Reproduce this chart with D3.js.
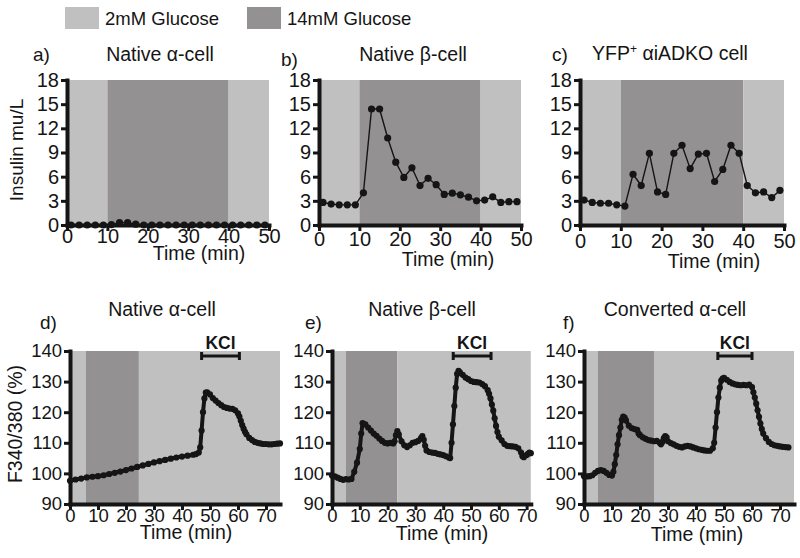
<!DOCTYPE html>
<html><head><meta charset="utf-8">
<script src="https://cdn.jsdelivr.net/npm/d3@7"></script>
<style>body{margin:0;background:#fff}</style>
</head><body><script>
// ---------- data ----------
const legendLabels = ["2mM Glucose", "14mM Glucose"];
const panelTitles = ["Native α-cell", "Native β-cell", "YFP", "Native α-cell", "Native β-cell", "Converted α-cell"];
const panelLetters = ["a)", "b)", "c)", "d)", "e)", "f)"];

const xTicksTop = [0, 10, 20, 30, 40, 50];
const yTicksTop = [0, 3, 6, 9, 12, 15, 18];
const xTicksBottom = [0, 10, 20, 30, 40, 50, 60, 70];
const yTicksBottom = [90, 100, 110, 120, 130, 140];

// top row: insulin secretion, sampled every 2 min
const timeTop = [1, 3, 5, 7, 9, 11, 13, 15, 17, 19, 21, 23, 25, 27, 29, 31, 33, 35, 37, 39, 41, 43, 45, 47, 49];
const insulinAlpha = [0, 0, 0, 0, 0, 0.05, 0.3, 0.3, 0.1, 0, 0, 0, 0, 0, 0, 0, 0, 0, 0, 0, 0, 0, 0, 0, 0];
const insulinBeta = [2.8, 2.6, 2.5, 2.5, 2.5, 4.0, 14.4, 14.4, 10.8, 7.8, 5.9, 7.1, 4.9, 5.8, 5.0, 3.8, 3.95, 3.75, 3.45, 3.0, 3.1, 3.5, 2.8, 2.9, 2.9];
const insulinYfp = [3.1, 2.8, 2.7, 2.7, 2.5, 2.35, 6.3, 4.9, 8.9, 4.1, 3.8, 8.9, 9.9, 7.0, 8.8, 8.9, 5.4, 6.9, 9.9, 8.9, 4.9, 4.0, 4.1, 3.4, 4.3];

// glucose bands [start, end, level]  level 0 = 2mM, 1 = 14mM
const bandsTop = [[0, 10, 0], [10, 40, 1], [40, 50, 0]];
const bandsD = [[0, 5.6, 0], [5.6, 24.6, 1], [24.6, 75, 0]];
const bandsE = [[0, 5, 0], [5, 23.5, 1], [23.5, 71.5, 0]];
const bandsF = [[0, 5, 0], [5, 25, 1], [25, 75, 0]];

const kclD = [47, 60.5];
const kclE = [43.6, 57.2];
const kclF = [47.8, 60];

// bottom row: calcium traces F340/380 (%)
const timeD = [0,2,4,6,8,10,12,14,16,18,20,22,24,26,28,30,32,34,36,38,40,42,44,45,46,46.5,47,47.5,48,48.5,49,50,51,52,53,54,55,56,57,58,59,60,60.5,61,61.5,62,62.5,63,64,65,66,67,68,69,70,71,72,73,74,75];
const calciumD = [97.6,98.0,98.3,98.7,98.9,99.1,99.4,99.8,100.2,100.6,101.1,101.6,102.1,102.6,103.1,103.6,104.0,104.4,104.8,105.2,105.5,105.8,106.1,106.3,106.8,108.5,114,120,124.5,126.4,126.5,125.8,124.6,123.8,123.0,122.3,121.7,121.4,121.2,121.1,120.6,119.6,118.6,117.2,115.8,114.6,113.6,112.8,111.6,110.9,110.3,110.0,109.8,109.6,109.6,109.5,109.5,109.6,109.7,109.8];

const timeE = [0,1,2,3,4,5,6,7,8,9,10,10.5,11,12,13,14,15,16,17,18,19,20,21,22,22.5,23,23.5,24,25,26,27,28,29,30,31,32,32.5,33,33.5,34,35,36,37,38,39,40,41,42,42.5,43,43.5,44,44.5,45,45.5,46,47,48,49,50,51,52,53,54,55,56,56.5,57,57.5,58,58.5,59,59.5,60,61,62,63,64,65,66,67,68,68.5,69,70,70.5,71,71.5];
const calciumE = [99.3,99.0,98.6,98.2,97.9,98.1,98.0,98.2,100.5,103.5,108,113,116.4,116.0,115.0,114.0,113.0,112.3,111.4,110.6,110.0,109.8,110.0,109.8,110.5,112.5,113.8,112.8,110.5,109.2,108.6,109.2,110.0,110.2,110.6,111.5,112.2,111.0,109.0,107.5,107.0,106.8,106.7,106.4,106.2,106.0,105.6,105.2,105.0,110,116,122,128,132.5,133.5,133.0,132.2,131.3,130.8,130.2,129.9,129.8,129.7,129.2,128.5,127.2,126.0,124.5,122.5,120.5,118.0,115.5,113.5,112.0,110.8,109.6,109.0,108.9,108.8,108.7,108.2,106.8,105.6,105.3,106.0,106.4,106.8,106.6];

const timeF = [0,1,2,3,4,5,6,7,8,9,10,10.5,11,11.5,12,12.5,13,13.5,14,14.5,15,16,17,18,19,19.5,20,21,22,23,24,25,26,27,27.5,28,28.5,29,29.5,30,31,32,33,34,35,36,37,38,39,40,41,42,43,44,45,46,46.5,47,47.5,48,48.5,49,49.5,50,51,52,53,54,55,56,57,58,59,60,60.5,61,61.5,62,62.5,63,63.5,64,65,66,67,68,69,70,71,72,73];
const calciumF = [99.1,99.0,99.1,99.4,100.2,100.8,101.1,100.8,100.2,99.5,99.3,100.5,103.0,106.0,109.5,112.5,115.0,117.5,118.6,118.2,117.3,115.6,114.8,114.5,114.2,113.0,112.5,111.8,111.3,110.9,110.7,110.5,110.6,110.0,109.5,110.3,111.5,112.2,111.8,110.5,109.9,109.5,109.0,108.7,108.5,108.8,109.0,108.8,108.5,108.2,107.9,107.7,107.5,107.4,107.4,108.2,110,115,120,124.8,128,130.3,131.0,131.2,130.6,129.9,129.4,129.1,128.9,128.8,128.9,128.8,129.0,128.2,126.5,124.8,122.8,120.6,118.5,116.3,114.5,113.0,111.5,110.3,109.6,109.2,109.0,108.8,108.7,108.6,108.5];

// ---------- drawing ----------
const FONT = '"Liberation Sans", Arial, Helvetica, sans-serif';
const INK = "#151515";
const BAND_COLORS = ["#c0c0c0", "#939191"];

const svg = d3.select("body").append("svg").attr("width", 800).attr("height", 558)
  .attr("font-family", FONT);

function txt(x, y, s, size, anchor, weight) {
  return svg.append("text").attr("x", x).attr("y", y).text(s)
    .attr("font-size", size).attr("text-anchor", anchor || "start")
    .attr("font-weight", weight || "normal").attr("fill", INK);
}

// legend
const legendColor = d3.scaleOrdinal().domain(legendLabels).range(BAND_COLORS);
const legendX = [65, 247];
legendLabels.forEach((lab, i) => {
  svg.append("rect").attr("x", legendX[i]).attr("y", 7).attr("width", 34).attr("height", 22)
    .attr("fill", legendColor(lab));
  txt(legendX[i] + 40, 25, lab, 18.5);
});

function drawPanel(o) {
  const x = d3.scaleLinear().domain(o.xDomain).range([o.x0, o.x1]);
  const y = d3.scaleLinear().domain(o.yDomain).range([o.yBot, o.yTop]);
  const g = svg.append("g");
  o.bands.forEach(b => {
    g.append("rect").attr("x", x(b[0])).attr("width", x(b[1]) - x(b[0]))
      .attr("y", y(o.yDomain[1])).attr("height", y(o.yDomain[0]) - y(o.yDomain[1]))
      .attr("fill", BAND_COLORS[b[2]]);
  });
  const ax = g.append("g").attr("transform", `translate(0,${o.yBot})`)
    .call(d3.axisBottom(x).tickValues(o.xTicks).tickSize(6).tickSizeOuter(0).tickPadding(o.xPad));
  const ay = g.append("g").attr("transform", `translate(${o.x0},0)`)
    .call(d3.axisLeft(y).tickValues(o.yTicks).tickSize(6).tickSizeOuter(0).tickPadding(2));
  [ax, ay].forEach(a => {
    a.attr("font-family", FONT).attr("font-size", o.fs);
    a.select(".domain").attr("stroke", INK).attr("stroke-width", 4).attr("stroke-linecap", "square");
    a.selectAll(".tick line").attr("stroke", INK).attr("stroke-width", 3);
    a.selectAll(".tick text").attr("fill", INK);
  });
  const pts = o.t.map((t, i) => [t, o.v[i]]);
  g.append("path").datum(pts)
    .attr("d", d3.line().x(d => x(d[0])).y(d => y(d[1])))
    .attr("fill", "none").attr("stroke", INK).attr("stroke-width", o.lw).attr("stroke-linejoin", "round");
  g.selectAll(null).data(pts).join("circle")
    .attr("cx", d => x(d[0])).attr("cy", d => y(d[1])).attr("r", o.r).attr("fill", INK);
  if (o.kcl) {
    const ky = o.yTop + 5;
    g.append("line").attr("x1", x(o.kcl[0])).attr("x2", x(o.kcl[1])).attr("y1", ky).attr("y2", ky)
      .attr("stroke", INK).attr("stroke-width", 3);
    o.kcl.forEach(k => g.append("line").attr("x1", x(k)).attr("x2", x(k)).attr("y1", ky - 4).attr("y2", ky + 4)
      .attr("stroke", INK).attr("stroke-width", 3));
    txt((x(o.kcl[0]) + x(o.kcl[1])) / 2, o.yTop - 2, "KCl", 17.5, "middle", "bold");
  }
}

const topCommon = { xDomain: [0, 50], yDomain: [0, 18], xTicks: xTicksTop, yTicks: yTicksTop,
  yTop: 80, yBot: 225, bands: bandsTop, fs: 20, lw: 1.4, r: 3.6, t: timeTop };
drawPanel(Object.assign({}, topCommon, { x0: 67, x1: 269, v: insulinAlpha, xPad: -2 }));
drawPanel(Object.assign({}, topCommon, { x0: 319, x1: 521, v: insulinBeta, xPad: 1 }));
drawPanel(Object.assign({}, topCommon, { x0: 580, x1: 784, v: insulinYfp, xPad: 3 }));

const botCommon = { yDomain: [90, 140], xTicks: xTicksBottom, yTicks: yTicksBottom,
  yTop: 351, yBot: 504, fs: 18.5, xPad: -1, lw: 4, r: 3.1 };
drawPanel(Object.assign({}, botCommon, { xDomain: [0, 75], x0: 70, x1: 280, bands: bandsD, t: timeD, v: calciumD, kcl: kclD }));
drawPanel(Object.assign({}, botCommon, { xDomain: [0, 71.5], x0: 332, x1: 530.8, bands: bandsE, t: timeE, v: calciumE, kcl: kclE }));
drawPanel(Object.assign({}, botCommon, { xDomain: [0, 75], x0: 584, x1: 794, bands: bandsF, t: timeF, v: calciumF, kcl: kclF }));

// titles & letters
txt(160, 61, panelTitles[0], 19.5, "middle");
txt(33, 61, panelLetters[0], 19);
txt(413, 61, panelTitles[1], 19.5, "middle");
txt(281, 66, panelLetters[1], 19);
const tc = txt(670, 60, "", 19.5, "middle");
tc.append("tspan").text("YFP");
tc.append("tspan").text("+").attr("font-size", 12).attr("dy", -7);
tc.append("tspan").text(" αiADKO cell").attr("dy", 7);
txt(552, 61, panelLetters[2], 19);

txt(162, 316, panelTitles[3], 19.5, "middle");
txt(40, 329, panelLetters[3], 19);
txt(422, 316, panelTitles[4], 19.5, "middle");
txt(305, 329, panelLetters[4], 19);
txt(675, 316, panelTitles[5], 19.5, "middle");
txt(563, 329, panelLetters[5], 19);

// axis titles
txt(199, 260, "Time (min)", 19.5, "middle");
txt(448, 266, "Time (min)", 19.5, "middle");
txt(714, 268, "Time (min)", 19.5, "middle");
txt(186, 539, "Time (min)", 19.5, "middle");
txt(442, 540, "Time (min)", 19.5, "middle");
txt(697, 541, "Time (min)", 19.5, "middle");

txt(0, 0, "Insulin mu/L", 19, "middle").attr("transform", "translate(23,150) rotate(-90)");
txt(0, 0, "F340/380 (%)", 19.5, "middle").attr("transform", "translate(22,424) rotate(-90)");
</script></body></html>
